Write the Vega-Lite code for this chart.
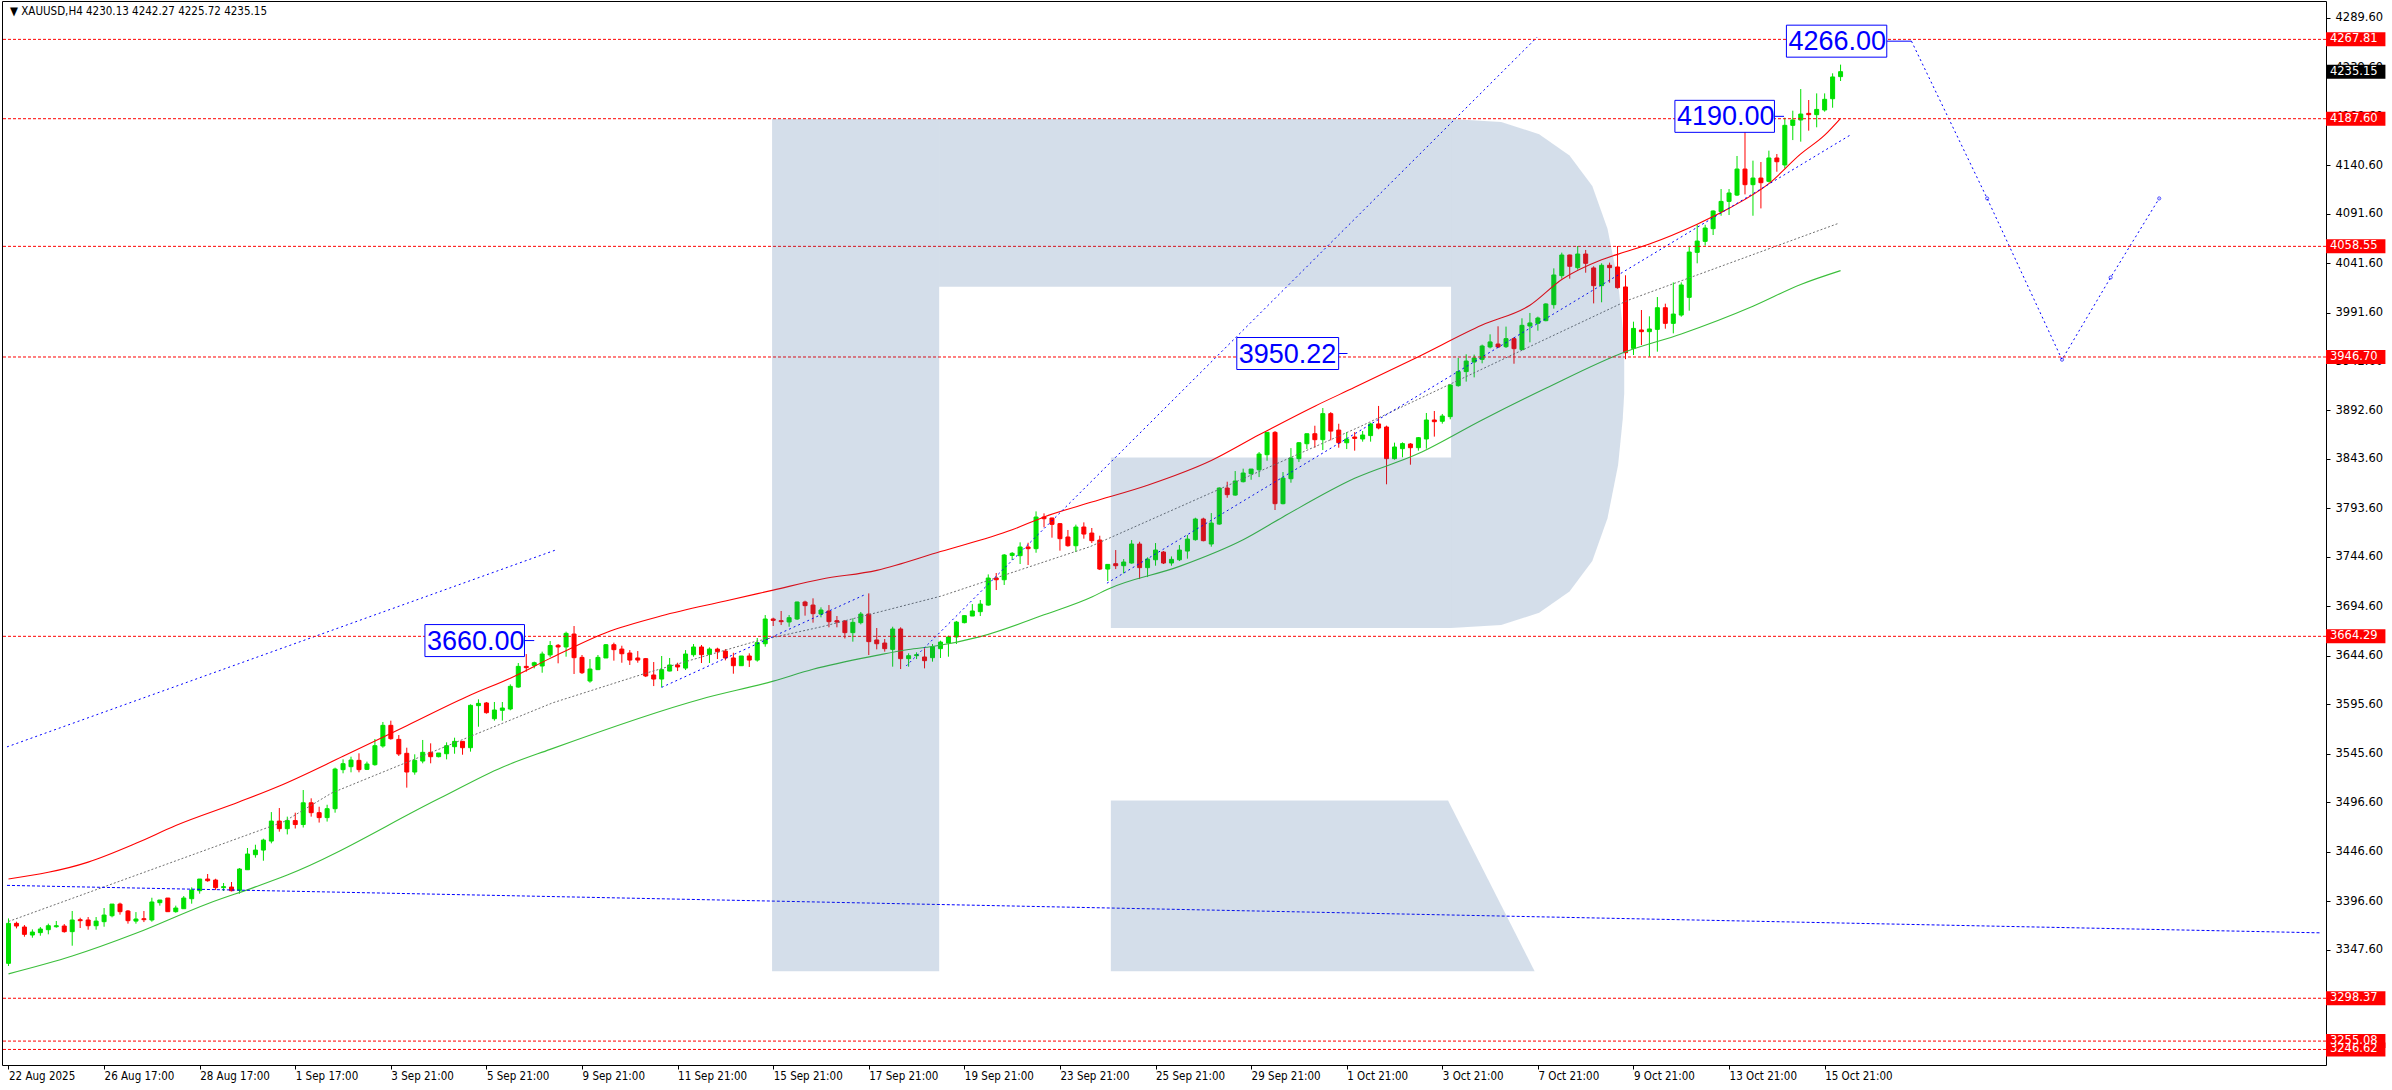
{
"$schema":"https://vega.github.io/schema/vega-lite/v6.json",
"width":2324,"height":1064,
"autosize":{"type":"none"},
"padding":{"left":2,"top":1,"right":66,"bottom":25},
"background":"#ffffff",
"config":{"view":{"stroke":"#000000","strokeWidth":1},"axis":{"grid":false,"domain":false,"labelColor":"#000000","tickColor":"#000000"}},
"datasets":{
"c":[
{"i":0,"o":3333.7,"h":3379.1,"l":3331.0,"c":3374.1},
{"i":1,"o":3374.1,"h":3375.8,"l":3369.0,"c":3371.4},
{"i":2,"o":3370.4,"h":3372.4,"l":3360.6,"c":3363.0},
{"i":3,"o":3362.3,"h":3368.0,"l":3359.6,"c":3365.3},
{"i":4,"o":3364.7,"h":3370.4,"l":3361.6,"c":3368.4},
{"i":5,"o":3367.7,"h":3373.8,"l":3363.0,"c":3371.7},
{"i":6,"o":3370.7,"h":3376.5,"l":3369.7,"c":3371.7},
{"i":7,"o":3371.4,"h":3373.4,"l":3364.7,"c":3365.7},
{"i":8,"o":3365.7,"h":3386.6,"l":3351.5,"c":3377.5},
{"i":9,"o":3377.8,"h":3379.8,"l":3369.4,"c":3376.8},
{"i":10,"o":3377.5,"h":3380.5,"l":3367.7,"c":3371.7},
{"i":11,"o":3371.7,"h":3380.5,"l":3367.7,"c":3376.4},
{"i":12,"o":3375.8,"h":3389.6,"l":3370.7,"c":3382.5},
{"i":13,"o":3381.8,"h":3393.6,"l":3380.2,"c":3393.6},
{"i":14,"o":3393.6,"h":3395.0,"l":3382.9,"c":3385.9},
{"i":15,"o":3386.6,"h":3387.6,"l":3373.8,"c":3376.8},
{"i":16,"o":3376.4,"h":3385.5,"l":3373.8,"c":3378.5},
{"i":17,"o":3378.8,"h":3386.6,"l":3375.4,"c":3377.8},
{"i":18,"o":3377.5,"h":3400.0,"l":3375.8,"c":3395.7},
{"i":19,"o":3395.0,"h":3397.7,"l":3392.0,"c":3397.7},
{"i":20,"o":3399.7,"h":3399.7,"l":3385.9,"c":3385.9},
{"i":21,"o":3385.9,"h":3392.0,"l":3384.9,"c":3389.6},
{"i":22,"o":3388.9,"h":3401.7,"l":3388.9,"c":3399.7},
{"i":23,"o":3399.0,"h":3410.5,"l":3394.0,"c":3407.8},
{"i":24,"o":3407.1,"h":3418.9,"l":3404.1,"c":3418.9},
{"i":25,"o":3418.9,"h":3424.0,"l":3416.2,"c":3417.2},
{"i":26,"o":3417.9,"h":3419.2,"l":3407.8,"c":3410.2},
{"i":27,"o":3410.2,"h":3414.9,"l":3406.8,"c":3411.2},
{"i":28,"o":3410.8,"h":3415.9,"l":3406.4,"c":3407.1},
{"i":29,"o":3407.5,"h":3430.0,"l":3404.1,"c":3429.0},
{"i":30,"o":3428.3,"h":3450.3,"l":3428.3,"c":3444.2},
{"i":31,"o":3443.5,"h":3453.6,"l":3440.5,"c":3448.2},
{"i":32,"o":3448.2,"h":3459.7,"l":3437.4,"c":3458.3},
{"i":33,"o":3457.3,"h":3486.6,"l":3455.0,"c":3477.5},
{"i":34,"o":3477.5,"h":3490.7,"l":3466.8,"c":3469.8},
{"i":35,"o":3469.8,"h":3482.0,"l":3464.0,"c":3478.0},
{"i":36,"o":3478.0,"h":3486.0,"l":3470.0,"c":3474.0},
{"i":37,"o":3474.0,"h":3508.9,"l":3471.0,"c":3496.0},
{"i":38,"o":3496.0,"h":3500.5,"l":3482.0,"c":3486.0},
{"i":39,"o":3486.0,"h":3492.0,"l":3476.0,"c":3481.0},
{"i":40,"o":3481.0,"h":3494.0,"l":3477.0,"c":3490.0},
{"i":41,"o":3490.0,"h":3531.5,"l":3486.0,"c":3530.1},
{"i":42,"o":3529.5,"h":3539.9,"l":3525.8,"c":3535.5},
{"i":43,"o":3532.5,"h":3542.6,"l":3526.8,"c":3539.2},
{"i":44,"o":3538.9,"h":3546.0,"l":3526.8,"c":3529.5},
{"i":45,"o":3529.8,"h":3537.6,"l":3529.1,"c":3535.2},
{"i":46,"o":3534.5,"h":3560.5,"l":3533.5,"c":3553.7},
{"i":47,"o":3553.4,"h":3577.7,"l":3551.7,"c":3574.3},
{"i":48,"o":3574.3,"h":3579.0,"l":3559.8,"c":3560.8},
{"i":49,"o":3560.1,"h":3564.5,"l":3543.3,"c":3545.3},
{"i":50,"o":3546.0,"h":3551.7,"l":3511.3,"c":3527.1},
{"i":51,"o":3527.1,"h":3545.0,"l":3524.4,"c":3538.9},
{"i":52,"o":3538.2,"h":3559.5,"l":3535.9,"c":3547.0},
{"i":53,"o":3547.0,"h":3556.1,"l":3535.9,"c":3542.6},
{"i":54,"o":3542.6,"h":3546.3,"l":3541.9,"c":3546.3},
{"i":55,"o":3545.6,"h":3557.1,"l":3539.9,"c":3553.7},
{"i":56,"o":3552.7,"h":3561.8,"l":3545.6,"c":3558.1},
{"i":57,"o":3558.1,"h":3558.1,"l":3544.6,"c":3551.7},
{"i":58,"o":3551.7,"h":3595.5,"l":3547.7,"c":3594.5},
{"i":59,"o":3594.2,"h":3600.6,"l":3572.9,"c":3596.5},
{"i":60,"o":3596.9,"h":3597.9,"l":3586.1,"c":3587.1},
{"i":61,"o":3581.0,"h":3597.9,"l":3579.0,"c":3589.8},
{"i":62,"o":3589.5,"h":3597.9,"l":3579.0,"c":3591.8},
{"i":63,"o":3590.8,"h":3615.7,"l":3589.5,"c":3613.7},
{"i":64,"o":3613.0,"h":3637.3,"l":3612.4,"c":3633.9},
{"i":65,"o":3633.9,"h":3646.4,"l":3628.5,"c":3632.6},
{"i":66,"o":3634.9,"h":3638.7,"l":3631.9,"c":3637.6},
{"i":67,"o":3634.3,"h":3648.8,"l":3627.5,"c":3646.4},
{"i":68,"o":3645.5,"h":3659.5,"l":3643.0,"c":3655.0},
{"i":69,"o":3655.2,"h":3656.5,"l":3637.0,"c":3653.5},
{"i":70,"o":3653.5,"h":3669.0,"l":3643.7,"c":3667.3},
{"i":71,"o":3666.6,"h":3674.7,"l":3626.2,"c":3642.7},
{"i":72,"o":3643.0,"h":3645.4,"l":3626.2,"c":3627.5},
{"i":73,"o":3619.1,"h":3641.3,"l":3617.4,"c":3631.2},
{"i":74,"o":3630.6,"h":3645.4,"l":3630.2,"c":3643.0},
{"i":75,"o":3642.4,"h":3656.5,"l":3642.4,"c":3655.8},
{"i":76,"o":3655.8,"h":3657.9,"l":3639.7,"c":3650.8},
{"i":77,"o":3651.4,"h":3654.8,"l":3637.6,"c":3646.7},
{"i":78,"o":3647.4,"h":3650.4,"l":3635.3,"c":3640.3},
{"i":79,"o":3642.4,"h":3649.4,"l":3637.6,"c":3640.3},
{"i":80,"o":3641.7,"h":3642.4,"l":3623.1,"c":3624.2},
{"i":81,"o":3625.2,"h":3638.3,"l":3614.0,"c":3621.1},
{"i":82,"o":3621.1,"h":3644.4,"l":3612.7,"c":3630.6},
{"i":83,"o":3629.2,"h":3642.4,"l":3628.9,"c":3635.3},
{"i":84,"o":3635.3,"h":3637.6,"l":3629.2,"c":3633.3},
{"i":85,"o":3632.2,"h":3650.4,"l":3630.2,"c":3646.4},
{"i":86,"o":3645.7,"h":3656.5,"l":3643.7,"c":3653.5},
{"i":87,"o":3653.5,"h":3655.5,"l":3637.3,"c":3645.7},
{"i":88,"o":3646.1,"h":3653.1,"l":3637.3,"c":3651.4},
{"i":89,"o":3651.4,"h":3652.8,"l":3641.3,"c":3648.8},
{"i":90,"o":3649.4,"h":3651.4,"l":3640.0,"c":3642.4},
{"i":91,"o":3642.4,"h":3647.7,"l":3626.5,"c":3634.6},
{"i":92,"o":3634.6,"h":3644.4,"l":3634.6,"c":3644.4},
{"i":93,"o":3644.4,"h":3647.1,"l":3633.3,"c":3640.3},
{"i":94,"o":3640.3,"h":3662.6,"l":3638.7,"c":3657.9},
{"i":95,"o":3656.8,"h":3685.8,"l":3653.8,"c":3681.8},
{"i":96,"o":3681.8,"h":3683.1,"l":3674.7,"c":3680.4},
{"i":97,"o":3680.1,"h":3689.9,"l":3675.7,"c":3679.1},
{"i":98,"o":3678.8,"h":3685.8,"l":3674.0,"c":3683.1},
{"i":99,"o":3681.8,"h":3699.3,"l":3680.8,"c":3699.0},
{"i":100,"o":3699.0,"h":3700.3,"l":3685.2,"c":3695.3},
{"i":101,"o":3695.9,"h":3702.7,"l":3678.1,"c":3687.2},
{"i":102,"o":3686.8,"h":3693.6,"l":3683.5,"c":3690.9},
{"i":103,"o":3689.9,"h":3695.9,"l":3673.4,"c":3679.1},
{"i":104,"o":3680.1,"h":3684.8,"l":3673.4,"c":3678.7},
{"i":105,"o":3679.8,"h":3680.8,"l":3662.2,"c":3668.0},
{"i":106,"o":3668.0,"h":3682.5,"l":3658.9,"c":3678.4},
{"i":107,"o":3678.1,"h":3688.9,"l":3676.4,"c":3686.8},
{"i":108,"o":3686.8,"h":3707.7,"l":3645.4,"c":3658.9},
{"i":109,"o":3660.6,"h":3672.7,"l":3651.1,"c":3656.8},
{"i":110,"o":3657.5,"h":3661.6,"l":3648.8,"c":3651.8},
{"i":111,"o":3651.1,"h":3674.0,"l":3633.6,"c":3671.7},
{"i":112,"o":3671.7,"h":3673.4,"l":3631.2,"c":3641.7},
{"i":113,"o":3641.7,"h":3647.1,"l":3633.6,"c":3644.7},
{"i":114,"o":3644.7,"h":3648.1,"l":3641.3,"c":3645.7},
{"i":115,"o":3643.4,"h":3652.1,"l":3631.9,"c":3639.7},
{"i":116,"o":3642.7,"h":3656.5,"l":3638.7,"c":3653.8},
{"i":117,"o":3651.8,"h":3659.9,"l":3642.4,"c":3658.5},
{"i":118,"o":3657.5,"h":3664.9,"l":3643.7,"c":3663.6},
{"i":119,"o":3663.6,"h":3679.8,"l":3656.5,"c":3678.7},
{"i":120,"o":3678.1,"h":3685.5,"l":3677.4,"c":3685.2},
{"i":121,"o":3684.8,"h":3696.9,"l":3684.8,"c":3689.9},
{"i":122,"o":3689.2,"h":3701.0,"l":3684.8,"c":3696.9},
{"i":123,"o":3695.9,"h":3726.9,"l":3695.3,"c":3723.2},
{"i":124,"o":3723.2,"h":3728.3,"l":3711.1,"c":3721.5},
{"i":125,"o":3721.5,"h":3747.5,"l":3716.2,"c":3746.5},
{"i":126,"o":3746.1,"h":3749.5,"l":3741.4,"c":3748.2},
{"i":127,"o":3745.8,"h":3759.3,"l":3737.4,"c":3754.6},
{"i":128,"o":3754.6,"h":3758.9,"l":3736.4,"c":3752.9},
{"i":129,"o":3752.9,"h":3790.6,"l":3748.8,"c":3784.9},
{"i":130,"o":3784.9,"h":3788.6,"l":3774.5,"c":3783.2},
{"i":131,"o":3783.9,"h":3784.2,"l":3764.0,"c":3777.5},
{"i":132,"o":3778.2,"h":3778.8,"l":3750.9,"c":3763.0},
{"i":133,"o":3764.7,"h":3771.8,"l":3754.9,"c":3755.9},
{"i":134,"o":3755.9,"h":3777.2,"l":3749.5,"c":3774.8},
{"i":135,"o":3774.8,"h":3779.5,"l":3763.0,"c":3767.7},
{"i":136,"o":3768.7,"h":3773.8,"l":3758.6,"c":3761.0},
{"i":137,"o":3761.6,"h":3766.0,"l":3731.3,"c":3732.3},
{"i":138,"o":3732.3,"h":3737.0,"l":3720.2,"c":3737.0},
{"i":139,"o":3737.7,"h":3751.5,"l":3732.3,"c":3735.7},
{"i":140,"o":3735.7,"h":3742.4,"l":3727.9,"c":3739.4},
{"i":141,"o":3738.4,"h":3761.6,"l":3737.7,"c":3757.6},
{"i":142,"o":3757.6,"h":3759.9,"l":3722.2,"c":3733.7},
{"i":143,"o":3733.7,"h":3744.1,"l":3724.2,"c":3742.4},
{"i":144,"o":3741.7,"h":3758.6,"l":3735.7,"c":3751.5},
{"i":145,"o":3749.5,"h":3750.5,"l":3737.4,"c":3738.4},
{"i":146,"o":3738.4,"h":3745.1,"l":3735.7,"c":3742.1},
{"i":147,"o":3741.7,"h":3756.6,"l":3740.4,"c":3751.5},
{"i":148,"o":3750.5,"h":3766.7,"l":3742.8,"c":3762.6},
{"i":149,"o":3762.0,"h":3784.2,"l":3761.0,"c":3782.9},
{"i":150,"o":3782.9,"h":3784.2,"l":3760.3,"c":3761.0},
{"i":151,"o":3757.6,"h":3788.9,"l":3754.9,"c":3778.8},
{"i":152,"o":3777.8,"h":3814.9,"l":3777.1,"c":3814.2},
{"i":153,"o":3814.2,"h":3820.6,"l":3804.4,"c":3807.5},
{"i":154,"o":3807.1,"h":3831.4,"l":3806.5,"c":3821.3},
{"i":155,"o":3820.6,"h":3833.8,"l":3819.9,"c":3829.4},
{"i":156,"o":3828.7,"h":3833.4,"l":3822.6,"c":3833.4},
{"i":157,"o":3832.7,"h":3850.6,"l":3825.3,"c":3848.6},
{"i":158,"o":3847.9,"h":3870.8,"l":3841.8,"c":3870.5},
{"i":159,"o":3870.5,"h":3871.8,"l":3792.0,"c":3798.4},
{"i":160,"o":3798.4,"h":3830.4,"l":3797.7,"c":3824.3},
{"i":161,"o":3823.6,"h":3854.6,"l":3819.6,"c":3844.5},
{"i":162,"o":3843.9,"h":3860.7,"l":3840.5,"c":3860.0},
{"i":163,"o":3859.0,"h":3869.1,"l":3853.6,"c":3869.1},
{"i":164,"o":3869.1,"h":3877.2,"l":3855.0,"c":3863.1},
{"i":165,"o":3863.1,"h":3895.1,"l":3852.6,"c":3889.4},
{"i":166,"o":3889.4,"h":3891.0,"l":3862.4,"c":3871.8},
{"i":167,"o":3872.8,"h":3879.2,"l":3855.0,"c":3860.0},
{"i":168,"o":3860.0,"h":3870.8,"l":3853.6,"c":3863.7},
{"i":169,"o":3865.8,"h":3870.8,"l":3852.0,"c":3864.4},
{"i":170,"o":3863.8,"h":3871.9,"l":3861.1,"c":3867.8},
{"i":171,"o":3867.2,"h":3880.3,"l":3861.1,"c":3879.0},
{"i":172,"o":3879.0,"h":3897.2,"l":3873.6,"c":3874.9},
{"i":173,"o":3875.9,"h":3877.3,"l":3818.0,"c":3843.9},
{"i":174,"o":3843.9,"h":3860.1,"l":3842.9,"c":3855.7},
{"i":175,"o":3854.0,"h":3860.4,"l":3845.3,"c":3859.1},
{"i":176,"o":3858.7,"h":3859.7,"l":3837.8,"c":3855.0},
{"i":177,"o":3855.0,"h":3865.8,"l":3852.0,"c":3865.1},
{"i":178,"o":3863.8,"h":3890.1,"l":3854.0,"c":3883.0},
{"i":179,"o":3883.0,"h":3892.1,"l":3866.2,"c":3881.3},
{"i":180,"o":3881.7,"h":3889.1,"l":3879.3,"c":3887.0},
{"i":181,"o":3886.4,"h":3919.1,"l":3883.7,"c":3918.4},
{"i":182,"o":3917.7,"h":3945.7,"l":3916.7,"c":3931.9},
{"i":183,"o":3931.9,"h":3949.4,"l":3921.8,"c":3942.6},
{"i":184,"o":3941.6,"h":3949.1,"l":3926.1,"c":3945.7},
{"i":185,"o":3944.3,"h":3959.2,"l":3940.3,"c":3957.8},
{"i":186,"o":3956.8,"h":3969.6,"l":3955.4,"c":3961.9},
{"i":187,"o":3959.8,"h":3977.7,"l":3955.8,"c":3956.8},
{"i":188,"o":3957.1,"h":3977.4,"l":3955.8,"c":3965.2},
{"i":189,"o":3965.2,"h":3966.6,"l":3939.9,"c":3955.1},
{"i":190,"o":3954.1,"h":3985.8,"l":3954.1,"c":3978.7},
{"i":191,"o":3978.0,"h":3991.2,"l":3961.5,"c":3981.1},
{"i":192,"o":3980.7,"h":3987.5,"l":3973.3,"c":3986.1},
{"i":193,"o":3983.4,"h":4000.9,"l":3982.8,"c":4000.3},
{"i":194,"o":3999.6,"h":4036.3,"l":3995.6,"c":4029.6},
{"i":195,"o":4028.9,"h":4052.2,"l":4025.9,"c":4049.8},
{"i":196,"o":4049.8,"h":4050.2,"l":4025.9,"c":4038.4},
{"i":197,"o":4037.0,"h":4058.9,"l":4035.0,"c":4050.8},
{"i":198,"o":4050.8,"h":4054.9,"l":4031.9,"c":4041.4},
{"i":199,"o":4036.7,"h":4038.4,"l":4000.9,"c":4018.8},
{"i":200,"o":4018.8,"h":4041.4,"l":4002.0,"c":4039.4},
{"i":201,"o":4039.4,"h":4042.1,"l":4021.8,"c":4037.0},
{"i":202,"o":4037.7,"h":4058.9,"l":4015.8,"c":4016.8},
{"i":203,"o":4017.5,"h":4029.3,"l":3944.5,"c":3951.0},
{"i":204,"o":3955.4,"h":3982.4,"l":3948.7,"c":3975.6},
{"i":205,"o":3974.0,"h":3994.2,"l":3958.8,"c":3972.3},
{"i":206,"o":3972.3,"h":3987.8,"l":3947.0,"c":3975.0},
{"i":207,"o":3974.6,"h":4007.3,"l":3952.1,"c":3996.5},
{"i":208,"o":3996.5,"h":4000.6,"l":3975.3,"c":3980.7},
{"i":209,"o":3980.7,"h":4022.1,"l":3970.6,"c":3990.1},
{"i":210,"o":3989.1,"h":4022.1,"l":3987.4,"c":4019.5},
{"i":211,"o":4007.0,"h":4059.2,"l":3993.5,"c":4052.8},
{"i":212,"o":4052.5,"h":4080.4,"l":4041.4,"c":4063.9},
{"i":213,"o":4063.6,"h":4080.4,"l":4059.2,"c":4077.1},
{"i":214,"o":4076.4,"h":4094.9,"l":4070.0,"c":4094.3},
{"i":215,"o":4093.6,"h":4116.5,"l":4089.5,"c":4104.0},
{"i":216,"o":4104.0,"h":4116.5,"l":4090.2,"c":4112.5},
{"i":217,"o":4110.4,"h":4149.9,"l":4109.4,"c":4136.7},
{"i":218,"o":4136.7,"h":4178.9,"l":4111.1,"c":4120.9},
{"i":219,"o":4120.9,"h":4145.2,"l":4089.5,"c":4127.6},
{"i":220,"o":4127.6,"h":4143.8,"l":4096.9,"c":4122.9},
{"i":221,"o":4124.3,"h":4155.3,"l":4123.2,"c":4147.9},
{"i":222,"o":4147.9,"h":4151.9,"l":4134.0,"c":4144.1},
{"i":223,"o":4140.8,"h":4188.6,"l":4137.4,"c":4180.9},
{"i":224,"o":4180.9,"h":4195.7,"l":4166.0,"c":4186.3},
{"i":225,"o":4186.3,"h":4217.6,"l":4164.4,"c":4192.3},
{"i":226,"o":4193.0,"h":4206.5,"l":4175.5,"c":4191.7},
{"i":227,"o":4191.7,"h":4213.2,"l":4178.9,"c":4197.0},
{"i":228,"o":4196.4,"h":4213.2,"l":4194.7,"c":4207.2},
{"i":229,"o":4207.8,"h":4233.5,"l":4198.7,"c":4229.8},
{"i":230,"o":4230.13,"h":4242.27,"l":4225.72,"c":4235.15}
],
"mr":[{"i":0,"p":3419},{"i":10,"p":3436},{"i":16,"p":3455},{"i":21,"p":3473},{"i":29,"p":3497},{"i":34,"p":3513},{"i":42,"p":3543},{"i":50,"p":3574},{"i":58,"p":3605},{"i":63,"p":3622},{"i":68,"p":3642},{"i":75,"p":3668},{"i":82,"p":3685},{"i":90,"p":3700},{"i":96,"p":3711},{"i":102,"p":3722},{"i":109,"p":3731},{"i":117,"p":3750},{"i":126,"p":3772},{"i":130,"p":3785},{"i":136,"p":3800},{"i":143,"p":3817},{"i":151,"p":3842},{"i":157,"p":3868},{"i":164,"p":3897},{"i":169,"p":3916},{"i":177,"p":3947},{"i":185,"p":3979},{"i":191,"p":3999},{"i":195,"p":4025},{"i":200,"p":4045},{"i":203,"p":4053},{"i":206,"p":4061},{"i":212,"p":4081},{"i":216,"p":4097},{"i":221,"p":4122},{"i":225,"p":4152},{"i":228,"p":4171},{"i":230,"p":4188}],
"mg":[{"i":0,"p":3323},{"i":8,"p":3341},{"i":16,"p":3364},{"i":25,"p":3394},{"i":31,"p":3411},{"i":35,"p":3423},{"i":54,"p":3500},{"i":62,"p":3532},{"i":68,"p":3550},{"i":87,"p":3601},{"i":96,"p":3619},{"i":101,"p":3631},{"i":109,"p":3645},{"i":113,"p":3651},{"i":116,"p":3654},{"i":122,"p":3664},{"i":130,"p":3686},{"i":136,"p":3704},{"i":138,"p":3712},{"i":147,"p":3735},{"i":155,"p":3762},{"i":160,"p":3785},{"i":169,"p":3824},{"i":177,"p":3849},{"i":185,"p":3883},{"i":193,"p":3915},{"i":203,"p":3952},{"i":210,"p":3970},{"i":219,"p":3998},{"i":225,"p":4020},{"i":230,"p":4034}],
"gd":[{"g":"a","i":0,"p":3376},{"g":"a","i":34.6,"p":3477},{"g":"a","i":40.6,"p":3506},{"g":"a","i":68.3,"p":3597},{"g":"a","i":80,"p":3627},{"g":"a","i":93.7,"p":3659},{"g":"a","i":102.1,"p":3674},{"g":"a","i":117.1,"p":3705},{"g":"a","i":135.8,"p":3755},{"g":"a","i":169.6,"p":3876},{"g":"a","i":203.3,"p":4004},{"g":"a","i":229.8,"p":4082}],
"bd":[{"g":"a","i":-0.19,"p":3552.5},{"g":"a","i":68.6,"p":3751.3},
{"g":"b","i":82.0,"p":3612.7},{"g":"b","i":107.7,"p":3707.1},
{"g":"c","i":112.7,"p":3634.3},{"g":"c","i":191.9,"p":4270},
{"g":"d","i":137.9,"p":3718},{"g":"d","i":231.2,"p":4171},
{"g":"f","i":238.9,"p":4266},{"g":"f","i":248.4,"p":4107},{"g":"f","i":257.8,"p":3944},{"g":"f","i":263.9,"p":4027},{"g":"f","i":270.0,"p":4107}],
"fp":[{"i":248.4,"p":4107},{"i":257.8,"p":3944},{"i":263.9,"p":4027},{"i":270.0,"p":4107}],
"bl":[{"i":-0.19,"p":3412.5},{"i":290.31,"p":3364.5}],
"lv":[{"p":4267.81},{"p":4187.60},{"p":4058.55},{"p":3946.70},{"p":3664.29},{"p":3298.37},{"p":3255.08},{"p":3246.62}],
"tb":[{"v":3660.00,"i0":52.28,"i1":64.78,"ie":66.0},{"v":3950.22,"i0":154.2,"i1":166.99,"ie":168.1},{"v":4190.00,"i0":209.2,"i1":221.7,"ie":222.9},{"v":4266.00,"i0":223.2,"i1":235.8,"ie":238.9}],
"wm":[
{"g":"s","i":95.86,"t":4187.4,"b":3325.8},{"g":"s","i":116.84,"t":4187.4,"b":3325.8},
{"g":"t","i":116.84,"t":4187.4,"b":4017.8},{"g":"t","i":181.1,"t":4187.4,"b":4017.8},
{"g":"m","i":138.39,"t":3845.2,"b":3672.6},{"g":"m","i":181.1,"t":3845.2,"b":3672.6},
{"g":"r","i":181.1,"t":4187.4,"b":3672.6},{"g":"r","i":187.39,"t":4184.3,"b":3675.7},{"g":"r","i":192.16,"t":4172.0,"b":3688.0},{"g":"r","i":195.97,"t":4150.4,"b":3709.6},{"g":"r","i":198.83,"t":4119.6,"b":3740.4},{"g":"r","i":200.74,"t":4076.4,"b":3783.6},{"g":"r","i":202.07,"t":4022.5,"b":3837.5},{"g":"r","i":202.65,"t":3976.2,"b":3883.8},{"g":"r","i":202.84,"t":3950.0,"b":3910.0},
{"g":"l","i":138.39,"t":3498.4,"b":3325.8},{"g":"l","i":180.72,"t":3498.4,"b":3325.8},{"g":"l","i":191.59,"t":3325.8,"b":3325.8}
]
},
"layer":[
{"data":{"name":"c"},"mark":{"type":"rule","strokeWidth":1},
 "encoding":{
  "x":{"field":"i","type":"quantitative","title":null,"scale":{"domain":[-0.1875,290.3125],"nice":false,"zero":false},
   "axis":{"orient":"bottom","values":[0,12,24,36,48,60,72,84,96,108,120,132,144,156,168,180,192,204,216,228],
   "labelExpr":"['22 Aug 2025','26 Aug 17:00','28 Aug 17:00','1 Sep 17:00','3 Sep 21:00','5 Sep 21:00','9 Sep 21:00','11 Sep 21:00','15 Sep 21:00','17 Sep 21:00','19 Sep 21:00','23 Sep 21:00','25 Sep 21:00','29 Sep 21:00','1 Oct 21:00','3 Oct 21:00','7 Oct 21:00','9 Oct 21:00','13 Oct 21:00','15 Oct 21:00'][round(datum.value/12)]",
   "labelAlign":"left","labelBaseline":"top","labelPadding":1,"tickSize":4,"labelFont":"DejaVu Sans Condensed, DejaVu Sans","labelFontSize":11.5,"labelOverlap":false,"labelFlush":false}},
  "y":{"field":"l","type":"quantitative","title":null,"scale":{"domain":[3230.9,4306.6],"nice":false,"zero":false},
   "axis":{"orient":"right","values":[4289.6,4239.6,4189.6,4140.6,4091.6,4041.6,3991.6,3942.6,3892.6,3843.6,3793.6,3744.6,3694.6,3644.6,3595.6,3545.6,3496.6,3446.6,3396.6,3347.6,3298.6,3248.6],
   "format":".2f","tickSize":4,"labelPadding":5,"labelFont":"DejaVu Sans","labelFontSize":11.5,"labelBaseline":"middle","labelAlign":"left","labelOverlap":false,"labelFlush":false}},
  "y2":{"field":"h"},
  "color":{"condition":{"test":"datum.c>=datum.o","value":"#00e000"},"value":"#ff0000"}}},
{"data":{"name":"c"},"mark":{"type":"bar","width":4,"strokeWidth":1},
 "encoding":{
  "x":{"field":"i","type":"quantitative","title":null},
  "y":{"field":"o","type":"quantitative","title":null},
  "y2":{"field":"c"},
  "color":{"condition":{"test":"datum.c>=datum.o","value":"#00e000"},"value":"#ff0000"},
  "stroke":{"condition":{"test":"datum.c>=datum.o","value":"#00e000"},"value":"#ff0000"}}},
{"data":{"name":"mr"},"mark":{"type":"line","color":"#ff0000","strokeWidth":1.1,"interpolate":"monotone"},
 "encoding":{"x":{"field":"i","type":"quantitative","title":null},"y":{"field":"p","type":"quantitative","title":null}}},
{"data":{"name":"mg"},"mark":{"type":"line","color":"#3cbf3c","strokeWidth":1.1,"interpolate":"monotone"},
 "encoding":{"x":{"field":"i","type":"quantitative","title":null},"y":{"field":"p","type":"quantitative","title":null}}},
{"data":{"name":"gd"},"mark":{"type":"line","color":"#707070","strokeWidth":1,"strokeDash":[2,2]},
 "encoding":{"x":{"field":"i","type":"quantitative","title":null},"y":{"field":"p","type":"quantitative","title":null},"detail":{"field":"g"}}},
{"data":{"name":"bd"},"mark":{"type":"line","color":"#0000ff","strokeWidth":1,"strokeDash":[2,3],"clip":true},
 "encoding":{"x":{"field":"i","type":"quantitative","title":null},"y":{"field":"p","type":"quantitative","title":null},"detail":{"field":"g"}}},
{"data":{"name":"fp"},"mark":{"type":"point","shape":"circle","size":10,"filled":false,"color":"#0000ff","strokeWidth":1},
 "encoding":{"x":{"field":"i","type":"quantitative","title":null},"y":{"field":"p","type":"quantitative","title":null}}},
{"data":{"name":"bl"},"mark":{"type":"line","color":"#0000ff","strokeWidth":1,"strokeDash":[3,2],"clip":true},
 "encoding":{"x":{"field":"i","type":"quantitative","title":null},"y":{"field":"p","type":"quantitative","title":null}}},
{"data":{"name":"lv"},"mark":{"type":"rule","color":"#ff0000","strokeWidth":1,"strokeDash":[3,2]},
 "encoding":{"y":{"field":"p","type":"quantitative","title":null}}},
{"data":{"name":"tb"},"mark":{"type":"rule","color":"#0000ff","strokeWidth":1},
 "encoding":{"x":{"field":"i1","type":"quantitative","title":null},"x2":{"field":"ie"},"y":{"field":"v","type":"quantitative","title":null}}},
{"data":{"name":"tb"},"mark":{"type":"rect","fill":"#ffffff","stroke":"#0000ff","strokeWidth":1,"yOffset":-16,"y2Offset":16},
 "encoding":{"x":{"field":"i0","type":"quantitative","title":null},"x2":{"field":"i1"},"y":{"field":"v","type":"quantitative","title":null},"y2":{"field":"v"}}},
{"data":{"name":"tb"},"mark":{"type":"text","align":"left","baseline":"middle","dx":2,"dy":1,"font":"Liberation Sans","fontSize":27,"color":"#0000ff"},
 "encoding":{"x":{"field":"i0","type":"quantitative","title":null},"y":{"field":"v","type":"quantitative","title":null},"text":{"field":"v","type":"quantitative","format":".2f"}}},
{"data":{"name":"wm"},"mark":{"type":"area","color":"#2a5a95","opacity":0.2,"interpolate":"linear"},
 "encoding":{"x":{"field":"i","type":"quantitative","title":null},"y":{"field":"t","type":"quantitative","title":null},"y2":{"field":"b"},"detail":{"field":"g"}}},
{"data":{"name":"lv"},"mark":{"type":"rect","fill":"#ff0000","yOffset":-7,"y2Offset":7},
 "encoding":{"x":{"datum":290.94,"type":"quantitative"},"x2":{"datum":298.4},"y":{"field":"p","type":"quantitative","title":null},"y2":{"field":"p"}}},
{"data":{"name":"lv"},"mark":{"type":"text","align":"left","baseline":"middle","font":"DejaVu Sans","fontSize":11.5,"color":"#ffffff"},
 "encoding":{"x":{"datum":291.44,"type":"quantitative"},"y":{"field":"p","type":"quantitative","title":null},"text":{"field":"p","type":"quantitative","format":".2f"}}},
{"data":{"values":[{"p":4235.15}]},"mark":{"type":"rect","fill":"#000000","yOffset":-7,"y2Offset":7},
 "encoding":{"x":{"datum":290.94,"type":"quantitative"},"x2":{"datum":298.4},"y":{"field":"p","type":"quantitative","title":null},"y2":{"field":"p"}}},
{"data":{"values":[{"p":4235.15}]},"mark":{"type":"text","align":"left","baseline":"middle","font":"DejaVu Sans","fontSize":11.5,"color":"#ffffff"},
 "encoding":{"x":{"datum":291.44,"type":"quantitative"},"y":{"field":"p","type":"quantitative","title":null},"text":{"field":"p","type":"quantitative","format":".2f"}}},
{"data":{"values":[{"t":"▼ XAUUSD,H4  4230.13 4242.27 4225.72 4235.15"}]},"mark":{"type":"text","align":"left","baseline":"middle","font":"DejaVu Sans Condensed, DejaVu Sans","fontSize":11.5,"color":"#000000"},
 "encoding":{"x":{"datum":0.19,"type":"quantitative"},"y":{"datum":4295.5,"type":"quantitative"},"text":{"field":"t"}}}
]
}
